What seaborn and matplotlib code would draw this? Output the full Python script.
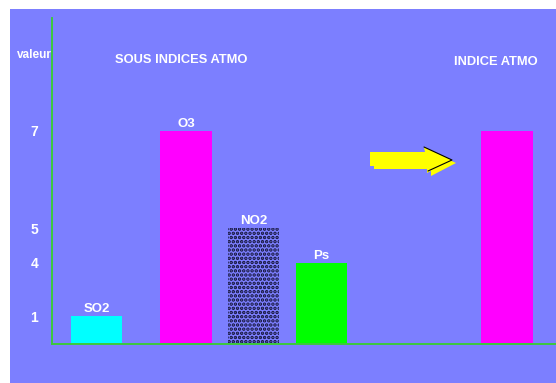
import numpy as np
import pandas as pd
import matplotlib
matplotlib.use("Agg")
import matplotlib.pyplot as plt
from matplotlib.patches import Rectangle, Polygon
from matplotlib.lines import Line2D
import seaborn as sns

# --- data ---------------------------------------------------------------
polluants = ["SO2", "O3", "NO2", "Ps", "INDICE ATMO"]
valeurs = [1, 7, 5, 4, 7]
graduations = [1, 4, 5, 7]

# --- layout / style -----------------------------------------------------
# bar centres along x, in units of the regular bar spacing
positions = [0.0, 1.326, 2.326, 3.333, 6.081]
couleurs = ["#00FFFF", "#FF00FF", "#7C7FFF", "#00FF00", "#FF00FF"]
FOND = "#7C7FFF"
VERT = "#3CC83C"
W, H = 556, 383

# the value axis is drawn as a schematic, not to scale: each graduation
# sits at its own height (pixels above the base line)
ech_val = [0, 1, 4, 5, 7, 12]
ech_px = [0, 28, 81, 116, 213, 455.5]


def vers_px(v):
    return np.interp(v, ech_val, ech_px)


def depuis_px(p):
    return np.interp(p, ech_px, ech_val)


def fig_xy(x, y):
    """pixel position (from top-left) -> figure fraction"""
    return x / W, 1 - y / H


sns.set_theme(style="white")
plt.rcParams["font.family"] = ["Liberation Sans Narrow", "Liberation Sans", "DejaVu Sans"]
plt.rcParams["font.weight"] = "bold"
plt.rcParams["hatch.linewidth"] = 1.7

fig = plt.figure(figsize=(W / 100, H / 100), dpi=100, facecolor="white")
fig.add_artist(Rectangle((10 / W, 0), (W - 10) / W, (H - 9) / H,
                         transform=fig.transFigure, facecolor=FOND,
                         edgecolor="none", zorder=-10))

ax = fig.add_axes([52 / W, (H - 344) / H, (W - 52) / W, 326 / H])
ax.set_facecolor("none")

df = pd.DataFrame({"pos": positions, "valeur": valeurs, "polluant": polluants})
sns.barplot(data=df, x="pos", y="valeur", hue="polluant",
            palette=dict(zip(polluants, couleurs)), native_scale=True,
            width=0.76, dodge=False, legend=False, errorbar=None,
            linewidth=0, saturation=1, ax=ax)

# NO2 bar: black dotted texture
for p in ax.patches:
    cx = p.get_x() + p.get_width() / 2
    if abs(cx - positions[2]) < 0.1:
        p.set_facecolor(FOND)
        p.set_edgecolor("#101030")
        p.set_linewidth(0)
        p.set_hatch("....")

ax.set_yscale("function", functions=(vers_px, depuis_px))
ax.set_ylim(0, depuis_px(326))
ax.set_xlim(-0.659, 6.807)

ax.set_yticks(graduations)
ax.set_yticklabels([str(g) for g in graduations])
ax.set_xticks([])
ax.tick_params(axis="y", length=0, pad=10, labelcolor="white", labelsize=10)
for lab in ax.get_yticklabels():
    lab.set_fontweight("bold")
ax.minorticks_off()
ax.set_xlabel("")
ax.set_ylabel("")

for s in ["top", "right"]:
    ax.spines[s].set_visible(False)
for s in ["left", "bottom"]:
    ax.spines[s].set_color(VERT)
    ax.spines[s].set_linewidth(1.4)

# names above the sub-index bars
for nom, pos, val in zip(polluants[:4], positions[:4], valeurs[:4]):
    ax.annotate(nom, xy=(pos, val), xytext=(0, 4), textcoords="offset pixels",
                ha="center", va="baseline", color="white", fontsize=9.5,
                fontweight="bold")

# headers
txt = dict(color="white", fontsize=9.3, fontweight="bold", ha="center", va="center")
fig.text(*fig_xy(34.5, 55), "valeur", **{**txt, "fontsize": 8.5})
fig.text(*fig_xy(181, 60), "SOUS INDICES ATMO", **txt)
fig.text(*fig_xy(495.5, 62), polluants[4], **txt)

# yellow arrow towards the overall index
def fleche(dx, dy):
    pts = [(370, 152), (425, 152), (424, 147), (452, 160), (427, 173),
           (427, 166), (370, 166)]
    return [fig_xy(x + dx, y + dy) for x, y in pts]


fig.add_artist(Polygon(fleche(4, 3), closed=True, transform=fig.transFigure,
                       facecolor="#FFFF00", edgecolor="none"))
fig.add_artist(Polygon(fleche(0, 0), closed=True, transform=fig.transFigure,
                       facecolor="#FFFF00", edgecolor="none"))
bord = [fig_xy(424, 147), fig_xy(452, 160), fig_xy(428, 171)]
fig.add_artist(Line2D([b[0] for b in bord], [b[1] for b in bord],
                      transform=fig.transFigure, color="black", linewidth=0.8))

fig.savefig("out.png", dpi=100, facecolor="white")
